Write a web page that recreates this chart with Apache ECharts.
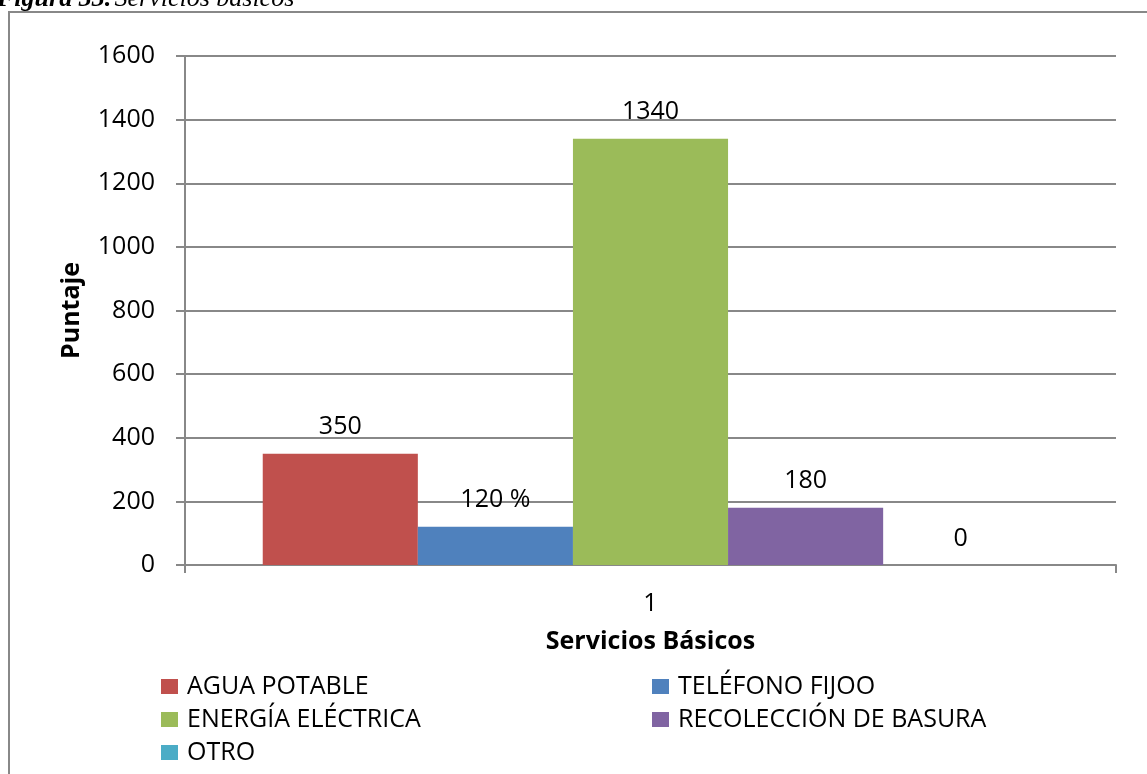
<!DOCTYPE html>
<html>
<head>
<meta charset="utf-8">
<script src="https://cdn.jsdelivr.net/npm/echarts@6/dist/echarts.min.js"></script>
<style>
  html, body { margin: 0; padding: 0; background: #fff; }
  #chart { width: 1147px; height: 774px; }
</style>
</head>
<body>
<div id="chart"></div>
<script>
// Servicios básicos: puntaje por servicio
const categories = ['1'];
const seriesNames = ['AGUA POTABLE', 'TELÉFONO FIJOO', 'ENERGÍA ELÉCTRICA', 'RECOLECCIÓN DE BASURA', 'OTRO'];
const seriesValues = [350, 120, 1340, 180, 0];
const labelSuffix = ['', ' %', '', '', ''];
const seriesColors = ['#C0504D', '#4F81BD', '#9BBB59', '#8064A2', '#4BACC6'];
const yTicks = { min: 0, max: 1600, interval: 200 };

const font = 'Open Sans, Liberation Sans, sans-serif';
const fs = 25;

const chart = echarts.init(document.getElementById('chart'), null, { renderer: 'canvas' });

const series = seriesNames.map((name, i) => ({
  name: name,
  type: 'bar',
  data: [seriesValues[i]],
  barGap: '0%',
  barCategoryGap: '16.7%',
  itemStyle: { color: seriesColors[i] },
  label: {
    show: true,
    position: 'top',
    distance: 14,
    color: '#000',
    fontFamily: font,
    fontSize: fs,
    formatter: p => p.value + labelSuffix[i]
  }
}));

const legendText = { fontFamily: font, fontSize: fs, lineHeight: 25, color: '#000', padding: [0, 0, 0, 4] };

const legendBase = {
  orient: 'vertical',
  top: 674,
  height: 100,
  padding: 0,
  itemWidth: 17, itemHeight: 15, itemGap: 8,
  icon: 'rect',
  textStyle: legendText,
  selectedMode: false
};

chart.setOption({
  animation: false,
  backgroundColor: '#fff',
  grid: { left: 185, right: 31, top: 56, bottom: 209, containLabel: false },
  xAxis: {
    type: 'category',
    data: categories,
    name: 'Servicios Básicos',
    nameLocation: 'middle',
    nameGap: 64,
    nameTextStyle: { fontFamily: font, fontWeight: 'bold', fontSize: fs, color: '#000' },
    axisLine: { lineStyle: { color: '#888', width: 2 } },
    axisTick: { show: true, length: 8, lineStyle: { color: '#888', width: 2 } },
    axisLabel: { fontFamily: font, fontSize: fs, color: '#000', margin: 26 }
  },
  yAxis: {
    type: 'value',
    min: yTicks.min,
    max: yTicks.max,
    interval: yTicks.interval,
    name: 'Puntaje',
    nameLocation: 'middle',
    nameGap: 101,
    nameRotate: 90,
    nameTextStyle: { fontFamily: font, fontWeight: 'bold', fontSize: fs, color: '#000' },
    axisLine: { show: true, lineStyle: { color: '#888', width: 2 } },
    axisTick: { show: true, length: 9, inside: false, lineStyle: { color: '#888', width: 2 } },
    axisLabel: { fontFamily: font, fontSize: fs, color: '#000', margin: 30, formatter: v => String(v) },
    splitLine: { show: true, lineStyle: { color: '#888', width: 2 } }
  },
  legend: [
    Object.assign({}, legendBase, { left: 161, data: [seriesNames[0], seriesNames[2], seriesNames[4]] }),
    Object.assign({}, legendBase, { left: 652, data: [seriesNames[1], seriesNames[3]] })
  ],
  graphic: [
    {
      type: 'rect',
      shape: { x: 9, y: 12, width: 1160, height: 800 },
      style: { fill: 'none', stroke: '#888', lineWidth: 2 },
      z: 100
    },
    {
      type: 'text',
      left: -3, top: -14,
      style: {
        rich: {
          b: { fontFamily: 'Liberation Serif, serif', fontWeight: 'bold', fontStyle: 'italic', fontSize: 26, fill: '#000' },
          i: { fontFamily: 'Liberation Serif, serif', fontStyle: 'italic', fontSize: 26, fill: '#000' }
        },
        text: '{b|Figura 33.} {i|Servicios básicos}'
      }
    }
  ],
  series: series
});
</script>
</body>
</html>
